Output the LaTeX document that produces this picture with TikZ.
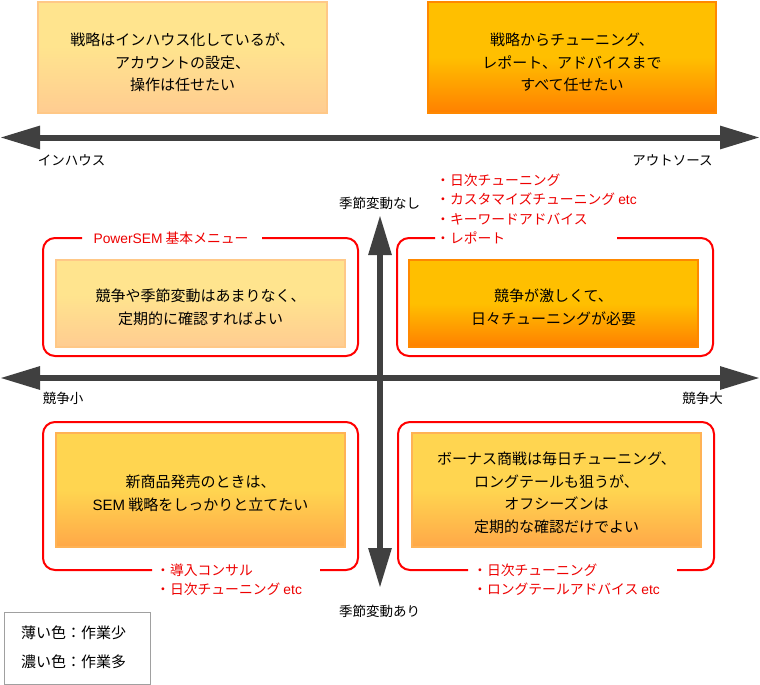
\documentclass[tikz,border=0pt]{standalone}
\usepackage{fontspec}
\setmainfont{Noto Sans CJK JP}
\newfontfamily\latinfont{Liberation Sans}
\usetikzlibrary{arrows.meta}
\definecolor{axisgray}{RGB}{64,64,64}
\definecolor{framered}{RGB}{255,0,0}
\definecolor{labelred}{RGB}{238,0,0}
\definecolor{ltop}{RGB}{255,228,142}
\definecolor{lbot}{RGB}{255,204,145}
\definecolor{lborder}{RGB}{255,200,135}
\definecolor{dtop}{RGB}{255,191,0}
\definecolor{dbot}{RGB}{255,128,0}
\definecolor{dborder}{RGB}{255,136,0}
\definecolor{mtop}{RGB}{255,213,80}
\definecolor{mbot}{RGB}{255,168,72}
\definecolor{mborder}{RGB}{255,178,85}
\definecolor{legendgray}{RGB}{160,160,160}
\pgfdeclareverticalshading{lightgrad}{100bp}{color(0bp)=(lbot); color(25bp)=(lbot); color(55bp)=(ltop); color(75bp)=(ltop); color(100bp)=(ltop)}
\pgfdeclareverticalshading{darkgrad}{100bp}{color(0bp)=(dbot); color(25bp)=(dbot); color(50bp)=(dtop); color(75bp)=(dtop); color(100bp)=(dtop)}
\pgfdeclareverticalshading{midgrad}{100bp}{color(0bp)=(mbot); color(25bp)=(mbot); color(50bp)=(mtop); color(75bp)=(mtop); color(100bp)=(mtop)}
\begin{document}
\begin{tikzpicture}[x=1pt,y=-1pt,
  boxbase/.style={rectangle,inner sep=0pt,line width=1.6pt},
  lightbox/.style={boxbase,shading=lightgrad,draw=lborder},
  darkbox/.style={boxbase,shading=darkgrad,draw=dborder},
  midbox/.style={boxbase,shading=midgrad,draw=mborder},
  maintext/.style={inner sep=0pt,align=center,font=\fontsize{15pt}{22.5pt}\selectfont},
  axislabel/.style={inner sep=0pt,font=\fontsize{13.5pt}{16pt}\selectfont},
  redlabel/.style={inner sep=0pt,align=left,text=labelred,font=\fontsize{13.8pt}{19.3pt}\selectfont},
  frame/.style={draw=framered,line width=2pt,rounded corners=12pt},
  axis/.style={draw=axisgray,line width=6pt,{Triangle[length=40pt,width=22pt]}-{Triangle[length=40pt,width=22pt]}}
  ]
\useasboundingbox (0,0) rectangle (760,685);
\fill[white] (0,0) rectangle (760,685);

% top boxes
\node[lightbox,minimum width=289pt,minimum height=111pt] (inbox) at (182.5,57.5) {};
\node[maintext] (intext) at (182.5,62.5) {戦略はインハウス化しているが、\\アカウントの設定、\\操作は任せたい};
\node[darkbox,minimum width=288pt,minimum height=111pt] (outbox) at (572,57.5) {};
\node[maintext] (outtext) at (572,62.5) {戦略からチューニング、\\レポート、アドバイスまで\\すべて任せたい};

% top axis
\coordinate (tl) at (0,137.5);
\coordinate (tr) at (760,137.5);
\draw[axis] (tl) -- (tr);
\node[axislabel] (inhouse) at (71.5,160) {インハウス};
\node[axislabel] (outsource) at (672.5,160) {アウトソース};

% quadrant frames
\draw[frame] (262,238) -- (358,238) -- (358,356) -- (43,356) -- (43,238) -- (82,238);
\node[redlabel] (psem) at (171,238) {{\latinfont PowerSEM} 基本メニュー};
\draw[frame] (617,238) -- (713,238) -- (713,356) -- (397,356) -- (397,238) -- (435,238);
\node[redlabel,anchor=west] (trlist) at (436,209) {・日次チューニング\\・カスタマイズチューニング {\latinfont etc}\\・キーワードアドバイス\\・レポート};
\draw[frame] (152,570) -- (43,570) -- (43,422) -- (358,422) -- (358,570) -- (320,570);
\node[redlabel,anchor=west] (bllist) at (156,579.5) {・導入コンサル\\・日次チューニング {\latinfont etc}};
\draw[frame] (468,570) -- (398,570) -- (398,422) -- (714,422) -- (714,570) -- (677,570);
\node[redlabel,anchor=west] (brlist) at (473,579.5) {・日次チューニング\\・ロングテールアドバイス {\latinfont etc}};

% quadrant boxes
\node[lightbox,minimum width=289pt,minimum height=87pt] (q1) at (200.5,303.5) {};
\node[maintext] (q1text) at (200.5,307.5) {競争や季節変動はあまりなく、\\定期的に確認すればよい};
\node[darkbox,minimum width=289pt,minimum height=87pt] (q2) at (553.5,303.5) {};
\node[maintext] (q2text) at (553.5,307.5) {競争が激しくて、\\日々チューニングが必要};
\node[midbox,minimum width=289pt,minimum height=114pt] (q3) at (200.5,490) {};
\node[maintext] (q3text) at (200.5,493.5) {新商品発売のときは、\\{\latinfont SEM} 戦略をしっかりと立てたい};
\node[midbox,minimum width=289pt,minimum height=114pt] (q4) at (556.5,490) {};
\node[maintext] (q4text) at (556.5,493) {ボーナス商戦は毎日チューニング、\\ロングテールも狙うが、\\オフシーズンは\\定期的な確認だけでよい};

% middle axes
\coordinate (ml) at (0,378);
\coordinate (mr) at (760,378);
\draw[axis] (ml) -- (mr);
\coordinate (vt) at (380,215);
\coordinate (vb) at (380,588);
\draw[axis] (vb) -- (vt);
\node[axislabel] (small) at (63,398) {競争小};
\node[axislabel] (large) at (702.5,398) {競争大};
\node[axislabel] (nos) at (379.5,203) {季節変動なし};
\node[axislabel] (wis) at (379.5,611) {季節変動あり};

% legend
\node[draw=legendgray,line width=1pt,minimum width=146pt,minimum height=72pt,inner sep=0pt] (legend) at (77,648) {};
\node[inner sep=0pt,align=left,anchor=west,font=\fontsize{15pt}{29pt}\selectfont] (legtext) at (21,647.5) {薄い色：作業少\\濃い色：作業多};
\end{tikzpicture}
\end{document}
